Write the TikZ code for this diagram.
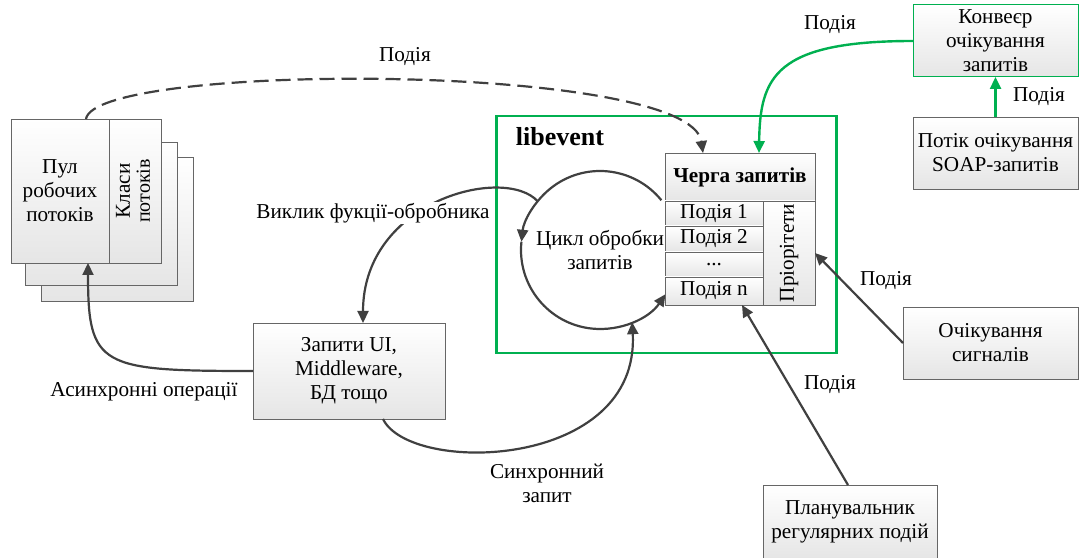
\documentclass[tikz,border=0pt]{standalone}
\usepackage{fontspec}
\setmainfont{Liberation Serif}
\usetikzlibrary{arrows.meta}
\definecolor{arrgray}{HTML}{404040}
\definecolor{linegray}{HTML}{666666}
\definecolor{evgreen}{HTML}{00B050}
\tikzset{
  box/.style={draw=linegray, line width=0.8pt, top color=white, bottom color=black!10,
    inner sep=0pt, outer sep=0pt, align=center, anchor=north west},
  gbox/.style={box, draw=evgreen, line width=1pt},
  arr/.style={draw=arrgray, line width=2.2pt, -{Triangle[length=12pt,width=11pt]}},
  grn/.style={draw=evgreen, line width=2.4pt, -{Triangle[length=12pt,width=11pt]}},
  lbl/.style={inner sep=1pt, align=center},
}

\begin{document}
\begin{tikzpicture}[x=1pt, y=1pt, font=\fontsize{21.2}{24}\selectfont]
  \useasboundingbox (0,0) rectangle (1079,557);

  \node[box, minimum width=152, minimum height=144] (pool3) at (41,400) {};
  \node[box, minimum width=152, minimum height=143] (pool2) at (25,415) {};
  \node[box, minimum width=98, minimum height=144] (pool) at (11,438) {Пул\\робочих\\потоків};
  \node[box, minimum width=52, minimum height=144] (classes) at (pool.north east)
    {\rotatebox{90}{\begin{tabular}{@{}c@{}}Класи\\[-4pt]{\fontsize{20}{22}\selectfont потоків}\end{tabular}}};

  \node[draw=evgreen, line width=2.5pt, minimum width=340, minimum height=237,
    anchor=north west, inner sep=0pt] (libframe) at (495,442) {};
  \node[lbl, font=\fontsize{26}{30}\selectfont\bfseries] (libname) at (560,420) {libevent};

  \node[circle, minimum size=158, inner sep=0pt, outer sep=0pt, align=center] (loop) at (600,307)
    {Цикл обробки\\запитів};
  \draw[arr] (loop.39) arc[start angle=39, end angle=174, radius=79];
  \draw[arr] (loop.174) arc[start angle=174, end angle=326, radius=79];

  \node[box, minimum width=150, minimum height=48, font=\fontsize{21.2}{24}\selectfont\bfseries]
    (queue) at (665,404) {Черга запитів};
  \node[box, minimum width=98, minimum height=25] (ev1) at (665,356) {Подія 1};
  \node[box, minimum width=98, minimum height=26] (ev2) at (665,331) {Подія 2};
  \node[box, minimum width=98, minimum height=25] (evdots) at (665,305) {...};
  \node[box, minimum width=98, minimum height=28] (evn) at (665,280) {Подія n};
  \node[box, minimum width=52, minimum height=104] (prio) at (763,356) {\rotatebox{90}{Пріорітети}};

  \node[box, minimum width=192, minimum height=96] (req) at (253,234) {Запити UI,\\Middleware,\\БД тощо};
  \node[gbox, minimum width=165, minimum height=72] (conv) at (913,552) {Конвеєр\\очікування\\запитів};
  \node[box, minimum width=165, minimum height=72] (soap) at (913,440) {Потік очікування\\SOAP-запитів};
  \node[box, minimum width=175, minimum height=72] (sig) at (903,250) {Очікування\\сигналів};
  \node[box, minimum width=174, minimum height=74] (sched) at (763,72) {Планувальник\\регулярних подій};

  \draw[arr, dash pattern=on 15pt off 7pt] ([xshift=26pt]pool.north) .. controls (95,495) and (690,495) .. ([xshift=-37pt]queue.north);
  \node[lbl] (lblev1) at (405,500) {Подія};

  \draw[grn] (conv.west) .. controls (775,516) and (760,480) .. ([xshift=19pt]queue.north);
  \node[lbl] (lblev2) at (830,532) {Подія};
  \draw[grn] (soap.north) -- (conv.south);
  \node[lbl] (lblev3) at (1039,460) {Подія};

  \draw[arr] (loop.142) .. controls (505,392) and (363,357) .. ([xshift=14pt]req.north);
  \node[lbl, fill=white] (lblcall) at (373,344) {Виклик фукції-обробника};

  \draw[arr] (req.west) .. controls (100,186) and (88,190) .. ([xshift=28pt]pool.south);
  \node[lbl] (lblasync) at (144,165) {Асинхронні операції};

  \draw[arr] ([xshift=34pt]req.south) .. controls (410,82) and (640,87) .. (loop.-66);
  \node[lbl] (lblsync) at (547,74) {Синхронний\\запит};

  \draw[arr] (sig.west) -- (prio.east);
  \node[lbl] (lblev4) at (886,276) {Подія};
  \draw[arr] ([xshift=-2pt]sched.north) -- ([xshift=28pt]evn.south);
  \node[lbl] (lblev5) at (830,172) {Подія};
\end{tikzpicture}
\end{document}
